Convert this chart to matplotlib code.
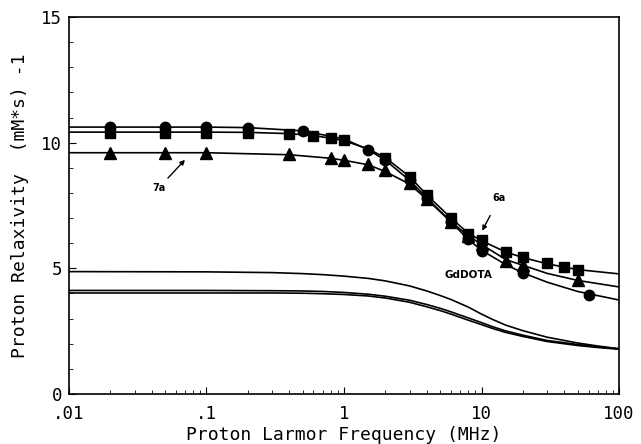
import matplotlib
matplotlib.use("Agg")
import matplotlib.pyplot as plt
from matplotlib.ticker import FixedLocator, LogLocator, NullFormatter, MultipleLocator

# fitted curves
sq_fit_x = [0.01, 0.1, 0.2, 0.4, 0.6, 0.8, 1, 1.5, 2, 3, 4, 6, 8, 10, 15, 20, 30, 50, 100]
sq_fit_y = [10.42, 10.42, 10.41, 10.36, 10.28, 10.18, 10.08, 9.75, 9.4, 8.65, 7.92, 7.0, 6.4, 6.1, 5.65, 5.43, 5.18, 4.95, 4.78]

ci_fit_x = [0.01, 0.1, 0.2, 0.5, 1, 1.5, 2, 3, 4, 6, 8, 10, 15, 20, 30, 50, 100]
ci_fit_y = [10.62, 10.62, 10.6, 10.47, 10.15, 9.72, 9.3, 8.5, 7.8, 6.85, 6.15, 5.72, 5.15, 4.82, 4.45, 4.08, 3.74]

tr_fit_x = [0.01, 0.1, 0.4, 0.8, 1, 1.5, 2, 3, 4, 6, 8, 10, 15, 20, 30, 50, 100]
tr_fit_y = [9.6, 9.6, 9.52, 9.38, 9.3, 9.12, 8.85, 8.35, 7.75, 6.85, 6.3, 5.95, 5.35, 5.12, 4.8, 4.52, 4.26]

low_x = [0.01, 0.1, 0.3, 0.5, 0.7, 1, 1.5, 2, 3, 4, 5, 6, 7, 8, 10, 12, 15, 20, 30, 50, 70, 100]
low1_y = [4.87, 4.86, 4.83, 4.79, 4.75, 4.69, 4.6, 4.5, 4.3, 4.1, 3.92, 3.76, 3.6, 3.46, 3.18, 2.97, 2.74, 2.52, 2.26, 2.03, 1.91, 1.8]
low2_y = [4.12, 4.12, 4.11, 4.10, 4.08, 4.04, 3.97, 3.89, 3.73, 3.56, 3.41, 3.27, 3.14, 3.03, 2.84, 2.68, 2.51, 2.34, 2.13, 1.97, 1.88, 1.8]
low3_y = [4.02, 4.02, 4.02, 4.01, 3.99, 3.96, 3.9, 3.82, 3.65, 3.47, 3.32, 3.18, 3.05, 2.94, 2.76, 2.61, 2.45, 2.29, 2.09, 1.93, 1.85, 1.78]

# measured points
ci_x = [0.02, 0.05, 0.1, 0.2, 0.5, 1.5, 2, 3, 4, 6, 8, 10, 20, 60]
ci_y = [10.62, 10.62, 10.62, 10.6, 10.47, 9.7, 9.3, 8.5, 7.8, 6.85, 6.15, 5.7, 4.8, 3.94]

sq_x = [0.02, 0.05, 0.1, 0.2, 0.4, 0.6, 0.8, 1, 2, 3, 4, 6, 8, 10, 15, 20, 30, 40, 50]
sq_y = [10.4, 10.4, 10.4, 10.4, 10.35, 10.28, 10.2, 10.1, 9.4, 8.63, 7.92, 7.0, 6.38, 6.12, 5.65, 5.45, 5.2, 5.05, 4.93]

tr_x = [0.02, 0.05, 0.1, 0.4, 0.8, 1, 1.5, 2, 3, 4, 6, 8, 10, 15, 20, 50]
tr_y = [9.6, 9.6, 9.6, 9.55, 9.4, 9.3, 9.15, 8.9, 8.4, 7.75, 6.85, 6.3, 5.95, 5.3, 5.15, 4.55]

xticks = [0.01, 0.1, 1, 10, 100]
xtick_labels = [".01", ".1", "1", "10", "100"]
yticks = [0, 5, 10, 15]

plt.rcParams["font.family"] = "DejaVu Sans Mono"

fig = plt.figure(figsize=(6.41, 4.44), dpi=100)
ax = fig.add_axes([0.1076, 0.1126, 0.8581, 0.8491])

for fx, fy in [(sq_fit_x, sq_fit_y), (ci_fit_x, ci_fit_y), (tr_fit_x, tr_fit_y),
               (low_x, low1_y), (low_x, low2_y), (low_x, low3_y)]:
    ax.plot(fx, fy, color="black", lw=1.2)

ax.plot(sq_x, sq_y, "s", color="black", ms=7.5)
ax.plot(ci_x, ci_y, "o", color="black", ms=7.5)
ax.plot(tr_x, tr_y, "^", color="black", ms=8)

ax.set_xscale("log")
ax.set_xlim(0.01, 100)
ax.set_ylim(0, 15)
ax.xaxis.set_major_locator(FixedLocator(xticks))
ax.set_xticklabels(xtick_labels)
ax.xaxis.set_minor_locator(LogLocator(base=10, subs=range(2, 10)))
ax.xaxis.set_minor_formatter(NullFormatter())
ax.set_yticks(yticks)
ax.yaxis.set_minor_locator(MultipleLocator(1))
ax.tick_params(which="both", direction="in", top=False, right=False, labelsize=12.5)
ax.tick_params(axis="x", pad=8)
ax.tick_params(axis="y", pad=5)
ax.tick_params(which="major", length=5)
ax.tick_params(which="minor", length=3)
for s in ax.spines.values():
    s.set_linewidth(1.2)

ax.set_xlabel("Proton Larmor Frequency (MHz)", fontsize=13, labelpad=2)
ax.set_ylabel("Proton Relaxivity  (mM*s) -1", fontsize=13, labelpad=9)

ax.annotate("7a", xy=(0.072, 9.4), xytext=(0.045, 8.2), fontsize=7, fontweight="bold",
            family="DejaVu Sans", ha="center", va="center",
            arrowprops=dict(arrowstyle="-|>", color="black", lw=1, mutation_scale=7))
ax.annotate("6a", xy=(9.9, 6.4), xytext=(13.5, 7.8), fontsize=7, fontweight="bold",
            family="DejaVu Sans", ha="center", va="center",
            arrowprops=dict(arrowstyle="-|>", color="black", lw=1, mutation_scale=7,
                            shrinkA=8))
ax.text(8.0, 4.75, "GdDOTA", fontsize=7.5, fontweight="bold", family="DejaVu Sans",
        ha="center", va="center")

fig.savefig("out.png", dpi=100)
